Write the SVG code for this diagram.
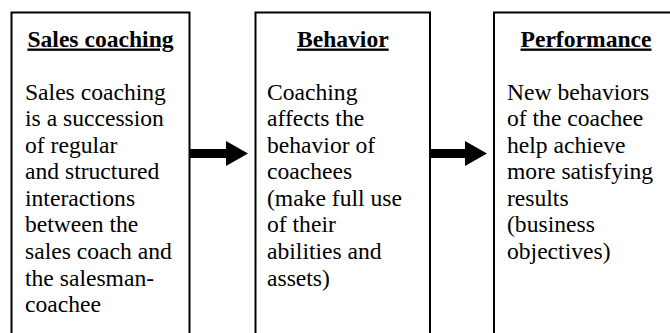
<svg xmlns="http://www.w3.org/2000/svg" width="670" height="333" viewBox="0 0 670 333">
  <style>
    .box { fill: #ffffff; stroke: #000000; stroke-width: 2; }
    .title { font-size: 23.6px; font-weight: bold; text-decoration: underline; text-anchor: middle; fill: #000000; }
    .body { font-size: 23.6px; fill: #000000; }
    .arrow { fill: #000000; stroke: none; }
  </style>
  <rect x="0" y="0" width="670" height="333" fill="#ffffff"/>
  <g id="node-sales-coaching" font-family="Liberation Serif, Times New Roman, serif">
    <rect class="box" x="11.5" y="12.5" width="178" height="340"/>
    <text class="title" x="100.5" y="46.5">Sales coaching</text>
    <text class="body" x="25" y="99.5">
      <tspan x="25" y="99.5">Sales coaching</tspan>
      <tspan x="25" y="126">is a succession</tspan>
      <tspan x="25" y="152.6">of regular</tspan>
      <tspan x="25" y="179.2">and structured</tspan>
      <tspan x="25" y="205.8">interactions</tspan>
      <tspan x="25" y="232.4">between the</tspan>
      <tspan x="25" y="259">sales coach and</tspan>
      <tspan x="25" y="285.6">the salesman-</tspan>
      <tspan x="25" y="312.2">coachee</tspan>
    </text>
  </g>
  <g id="node-behavior" font-family="Liberation Serif, Times New Roman, serif">
    <rect class="box" x="255.5" y="12.5" width="174.5" height="340"/>
    <text class="title" x="342.8" y="46.5">Behavior</text>
    <text class="body" x="267" y="99.5">
      <tspan x="267" y="99.5">Coaching</tspan>
      <tspan x="267" y="126">affects the</tspan>
      <tspan x="267" y="152.6">behavior of</tspan>
      <tspan x="267" y="179.2">coachees</tspan>
      <tspan x="267" y="205.8">(make full use</tspan>
      <tspan x="267" y="232.4">of their</tspan>
      <tspan x="267" y="259">abilities and</tspan>
      <tspan x="267" y="285.6">assets)</tspan>
    </text>
  </g>
  <g id="node-performance" font-family="Liberation Serif, Times New Roman, serif">
    <rect class="box" x="494" y="12.5" width="184" height="340"/>
    <text class="title" x="586" y="46.5">Performance</text>
    <text class="body" x="507" y="99.5">
      <tspan x="507" y="99.5">New behaviors</tspan>
      <tspan x="507" y="126">of the coachee</tspan>
      <tspan x="507" y="152.6">help achieve</tspan>
      <tspan x="507" y="179.2">more satisfying</tspan>
      <tspan x="507" y="205.8">results</tspan>
      <tspan x="507" y="232.4">(business</tspan>
      <tspan x="507" y="259">objectives)</tspan>
    </text>
  </g>
  <g id="connectors">
    <polygon class="arrow" points="190,149 226,149 226,141 248,153.5 226,166 226,158 190,158"/>
    <polygon class="arrow" points="431,149 465,149 465,141 487,153.5 465,166 465,158 431,158"/>
  </g>
</svg>
